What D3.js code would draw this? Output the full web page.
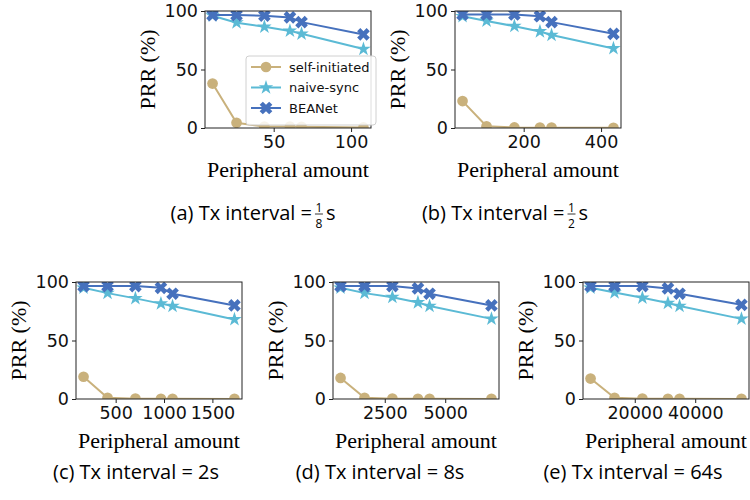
<!DOCTYPE html>
<html>
<head>
<meta charset="utf-8">
<script src="https://cdn.jsdelivr.net/npm/d3@7"></script>
<style>
  body { margin: 0; background: #fff; }
  svg { display: block; }
</style>
</head>
<body>
<svg id="chart" width="750" height="500"></svg>
<script>
// series names and colours
var seriesNames = ["self-initiated", "naive-sync", "BEANet"];
var seriesColors = ["#c9b17c", "#5bbad5", "#4671bd"];

// peripheral amount (x) for each panel
var amountA = [10.5, 26, 44, 60.5, 68, 108];
var amountB = [42, 104, 176, 242, 272, 432];
var amountC = [168, 416, 704, 968, 1088, 1728];
var amountD = [672, 1664, 2816, 3872, 4352, 6912];
var amountE = [5376, 13312, 22528, 30976, 34816, 55296];

// PRR (%) values
var selfA = [38, 4.5, 1.2, 1.2, 1, 0.5];
var naiveA = [96, 90, 86.5, 83, 80.5, 67.5];
var beaA = [96.5, 96.5, 96, 94.5, 90.5, 80];

var selfB = [23, 1.5, 0.5, 0.3, 0.3, 0.2];
var naiveB = [95.5, 91.5, 87, 82.5, 79.5, 68];
var beaB = [97, 97, 97, 95.5, 90.5, 80.5];

var selfC = [19, 1, 0.3, 0.2, 0.2, 0.1];
var naiveC = [95, 90.5, 86, 81.5, 79.5, 68];
var beaC = [96.5, 96.5, 96.5, 95, 90, 80];

var selfD = [18, 1, 0.3, 0.2, 0.2, 0.1];
var naiveD = [95, 90.5, 87, 82.5, 79.5, 68.5];
var beaD = [96.5, 96.5, 96.5, 94.5, 90, 80];

var selfE = [17.5, 1, 0.3, 0.2, 0.2, 0.1];
var naiveE = [95, 91, 86.5, 82, 79.5, 68.5];
var beaE = [96.5, 96.5, 96.5, 94.5, 90, 80.5];

// tick labels
var yTicks = [0, 50, 100];
var xTicksA = [50, 100];
var xTicksB = [200, 400];
var xTicksC = [500, 1000, 1500];
var xTicksD = [2500, 5000];
var xTicksE = [20000, 40000];

// captions
var captionText = ["(a) Tx interval = ", "(b) Tx interval = ", "(c) Tx interval = 2s", "(d) Tx interval = 8s", "(e) Tx interval = 64s"];
var captionFrac = [["1", "8"], ["1", "2"], null, null, null];

var serifFont = "'Liberation Serif', 'DejaVu Serif', Tinos, 'Times New Roman', Times, serif";
var capFont = "'Open Sans', Lato, sans-serif";

var panels = [
  {x: amountA, ys: [selfA, naiveA, beaA], ticks: xTicksA, left: 205, top: 11, cap: 253, capY: 220, legend: true},
  {x: amountB, ys: [selfB, naiveB, beaB], ticks: xTicksB, left: 455, top: 11, cap: 505, capY: 220},
  {x: amountC, ys: [selfC, naiveC, beaC], ticks: xTicksC, left: 76, top: 282, cap: 136, capY: 479},
  {x: amountD, ys: [selfD, naiveD, beaD], ticks: xTicksD, left: 333, top: 282, cap: 380, capY: 479},
  {x: amountE, ys: [selfE, naiveE, beaE], ticks: xTicksE, left: 583, top: 282, cap: 633, capY: 479}
];

var width = 166;
var height = 117;

var svg = d3.select("#chart");
var defs = svg.append("defs");

function markerPath(k) {
  if (k == 0) return d3.symbol().type(d3.symbolCircle).size(90)();
  if (k == 1) return d3.symbol().type(d3.symbolStar).size(65)();
  return d3.symbol().type(d3.symbolCross).size(100)();
}
function markerRotate(k) {
  return k == 2 ? " rotate(45)" : "";
}

panels.forEach(function(p, pi) {
  var g = svg.append("g").attr("transform", "translate(" + p.left + "," + p.top + ")");

  var ext = d3.extent(p.x);
  var pad = (ext[1] - ext[0]) * 0.05;
  var x = d3.scaleLinear().domain([ext[0] - pad, ext[1] + pad]).range([0, width]);
  var y = d3.scaleLinear().domain([0, 100]).range([height, 0]);

  defs.append("clipPath").attr("id", "clip" + pi)
    .append("rect").attr("width", width).attr("height", height);

  var plot = g.append("g").attr("clip-path", "url(#clip" + pi + ")");

  p.ys.forEach(function(vals, k) {
    var pts = vals.map(function(v, i) { return [p.x[i], v]; });
    plot.append("path")
      .attr("d", d3.line().x(function(d) { return x(d[0]); }).y(function(d) { return y(d[1]); })(pts))
      .attr("fill", "none")
      .attr("stroke", seriesColors[k])
      .attr("stroke-width", 2);
    plot.selectAll(".m" + k)
      .data(pts)
      .enter()
      .append("path")
      .attr("d", markerPath(k))
      .attr("transform", function(d) { return "translate(" + x(d[0]) + "," + y(d[1]) + ")" + markerRotate(k); })
      .attr("fill", seriesColors[k]);
  });

  // axes
  var xa = g.append("g").attr("transform", "translate(0," + height + ")")
    .call(d3.axisBottom(x).tickValues(p.ticks).tickSize(4).tickPadding(4).tickFormat(d3.format("d")));
  var ya = g.append("g")
    .call(d3.axisLeft(y).tickValues(yTicks).tickSize(4).tickPadding(3));
  [xa, ya].forEach(function(a) {
    a.select(".domain").remove();
    a.selectAll("line").attr("stroke", "#222");
    a.selectAll("text").attr("font-family", "DejaVu Sans").attr("font-size", 17.5).attr("fill", "#111");
  });

  g.append("rect")
    .attr("width", width).attr("height", height)
    .attr("fill", "none").attr("stroke", "#222").attr("stroke-width", 1);

  g.append("text")
    .style("font-family", serifFont)
    .style("font-size", "22px")
    .attr("x", width / 2).attr("y", height + 49)
    .attr("text-anchor", "middle")
    .text("Peripheral amount");

  g.append("text")
    .style("font-family", serifFont)
    .style("font-size", "22px")
    .attr("transform", "rotate(-90)")
    .attr("x", -height / 2).attr("y", -58)
    .attr("dy", "0.35em")
    .attr("text-anchor", "middle")
    .text("PRR (%)");

  // legend
  if (p.legend) {
    var lg = svg.append("g").attr("transform", "translate(246,56)");
    lg.append("rect").attr("width", 130).attr("height", 69).attr("rx", 3)
      .attr("fill", "white").attr("fill-opacity", 0.85)
      .attr("stroke", "#d0d0d0");
    seriesNames.forEach(function(name, k) {
      var ly = 11 + k * 20.5;
      lg.append("line").attr("x1", 5).attr("x2", 35).attr("y1", ly).attr("y2", ly)
        .attr("stroke", seriesColors[k]).attr("stroke-width", 2);
      lg.append("path").attr("d", markerPath(k))
        .attr("transform", "translate(20," + ly + ")" + markerRotate(k))
        .attr("fill", seriesColors[k]);
      lg.append("text").attr("x", 43).attr("y", ly).attr("dy", "0.35em")
        .attr("font-family", "DejaVu Sans").attr("font-size", 13)
        .attr("fill", "#111")
        .text(name);
    });
  }

  // caption
  var cg = svg.append("g");
  var t = cg.append("text").style("font-family", capFont).style("font-size", "20px")
    .attr("x", 0).attr("y", 0)
    .text(captionText[pi]);
  var w = t.node().getComputedTextLength();
  if (captionFrac[pi]) {
    var fx = w + 3;
    cg.append("text").style("font-family", capFont).style("font-size", "12px")
      .attr("x", fx + 4).attr("y", -8.5).attr("text-anchor", "middle")
      .text(captionFrac[pi][0]);
    cg.append("line").attr("x1", fx).attr("x2", fx + 8).attr("y1", -6).attr("y2", -6)
      .attr("stroke", "#000").attr("stroke-width", 0.8);
    cg.append("text").style("font-family", capFont).style("font-size", "12px")
      .attr("x", fx + 4).attr("y", 8).attr("text-anchor", "middle")
      .text(captionFrac[pi][1]);
    var s = cg.append("text").style("font-family", capFont).style("font-size", "20px")
      .attr("x", fx + 11).attr("y", 0)
      .text("s");
    w = fx + 11 + s.node().getComputedTextLength();
  }
  cg.attr("transform", "translate(" + (p.cap - w / 2) + "," + p.capY + ")");
});
</script>
</body>
</html>
